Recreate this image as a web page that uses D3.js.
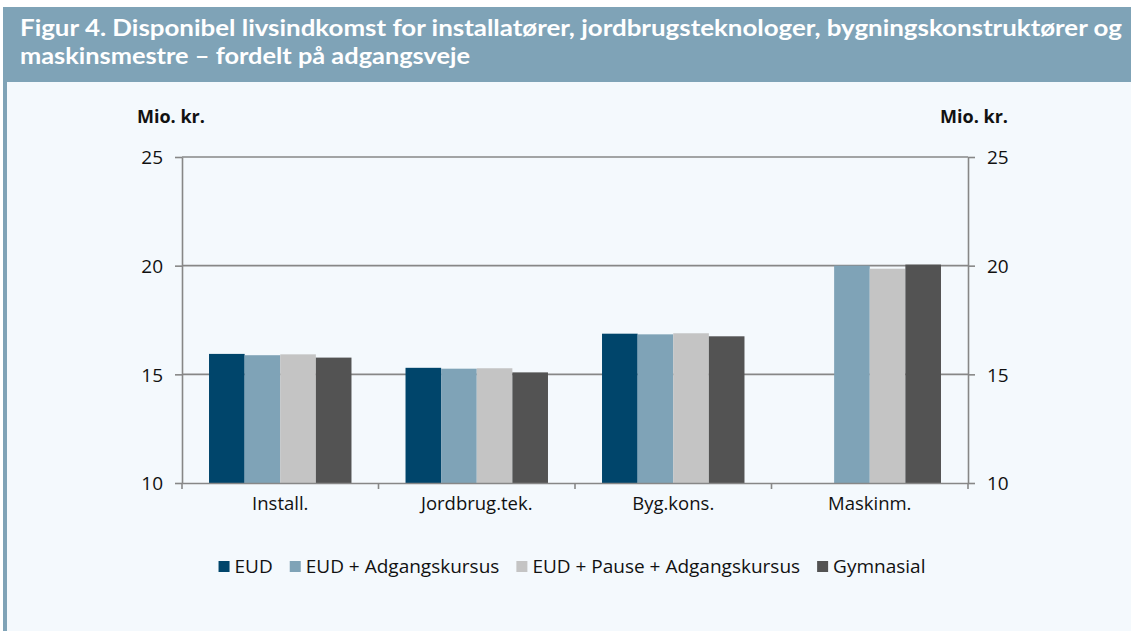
<!DOCTYPE html>
<html><head><meta charset="utf-8">
<script src="https://cdn.jsdelivr.net/npm/d3@7"></script>
<style>html,body{margin:0;padding:0;background:#fff;}svg{display:block;}</style>
</head><body>
<svg id="c" width="1131" height="631"></svg>
<script>
const titleLines = ["Figur 4. Disponibel livsindkomst for installatører, jordbrugsteknologer, bygningskonstruktører og", "maskinsmestre – fordelt på adgangsveje"];
const categories = ["Install.", "Jordbrug.tek.", "Byg.kons.", "Maskinm."];
const seriesNames = ["EUD", "EUD + Adgangskursus", "EUD + Pause + Adgangskursus", "Gymnasial"];
const seriesColors = ["#00456B", "#7FA3B7", "#C4C4C4", "#535353"];
const eud = [15.94, 15.30, 16.87, null];
const eudAdg = [15.88, 15.26, 16.84, 20.0];
const eudPauseAdg = [15.92, 15.28, 16.89, 19.86];
const gymnasial = [15.77, 15.09, 16.75, 20.05];
const yTicks = [10, 15, 20, 25];
const unitLabel = "Mio. kr.";

const values = [eud, eudAdg, eudPauseAdg, gymnasial];
const svg = d3.select("#c");
const W = 1131, H = 631;
const font = "'Open Sans', 'DejaVu Sans', sans-serif";

// background & frame
svg.append("rect").attr("x",0).attr("y",0).attr("width",W).attr("height",H).attr("fill","#ffffff");
svg.append("rect").attr("x",3).attr("y",7).attr("width",W-3).attr("height",H-7).attr("fill","#F4F9FD");
svg.append("rect").attr("x",3).attr("y",7).attr("width",W-3).attr("height",75).attr("fill","#7FA3B7");
svg.append("rect").attr("x",3).attr("y",82).attr("width",4).attr("height",H-82).attr("fill","#7FA3B7");

// title
const tl = [{t:titleLines[0], y:36, w:1102},{t:titleLines[1], y:63.5, w:450}];
tl.forEach(d=>{
  const t = svg.append("text").attr("x",20).attr("y",d.y).text(d.t)
    .attr("fill","#fff").attr("font-family","Lato, 'Open Sans', sans-serif")
    .attr("font-weight","bold").attr("font-size",23);
  const len = t.node().getComputedTextLength();
  if (Math.abs(len - d.w) > 2) t.attr("textLength", d.w).attr("lengthAdjust","spacingAndGlyphs");
});

const L = 182, R = 968, T = 157, B = 483;
const y = d3.scaleLinear().domain([10,25]).range([B,T]);
const x0 = d3.scaleBand().domain(categories).range([L,R]);
const inset = x0.bandwidth()*0.1375;
const x1 = d3.scaleBand().domain(seriesNames).range([inset, x0.bandwidth()-inset]);

const axisColor = "#878787";
// gridlines
svg.append("g").selectAll("line").data(yTicks.filter(v=>v>10)).join("line")
  .attr("x1",L).attr("x2",R).attr("y1",d=>y(d)).attr("y2",d=>y(d))
  .attr("stroke",axisColor).attr("stroke-width",1.6);

// bars
const g = svg.append("g");
categories.forEach((c,ci)=>{
  seriesNames.forEach((s,si)=>{
    const v = values[si][ci];
    if (v==null) return;
    g.append("rect").attr("x",x0(c)+x1(s)).attr("y",y(v))
      .attr("width",x1.bandwidth()).attr("height",y(10)-y(v))
      .attr("fill",seriesColors[si]);
  });
});

// axes
const styleAxis = (sel, fs)=>{
  sel.select(".domain").attr("stroke",axisColor).attr("stroke-width",1.6);
  sel.selectAll(".tick line").attr("stroke",axisColor).attr("stroke-width",1.6);
  sel.selectAll("text").attr("font-family",font).attr("font-size",fs).attr("fill","#111");
};
const yl = svg.append("g").attr("transform",`translate(${L},0)`)
  .call(d3.axisLeft(y).tickValues(yTicks).tickSizeInner(7).tickSizeOuter(0).tickPadding(12).tickFormat(d3.format("d")));
styleAxis(yl, 19);
const yr = svg.append("g").attr("transform",`translate(${R},0)`)
  .call(d3.axisRight(y).tickValues(yTicks).tickSizeInner(7).tickSizeOuter(0).tickPadding(12).tickFormat(d3.format("d")));
styleAxis(yr, 19);
yl.selectAll("text").attr("dy","0.36em");
yr.selectAll("text").attr("dy","0.36em");

const xa = svg.append("g").attr("transform",`translate(0,${B})`)
  .call(d3.axisBottom(x0).tickSize(0).tickPadding(14));
styleAxis(xa, 18.5);
xa.selectAll("text").attr("dy","0.71em");
// category separator ticks
svg.append("g").selectAll("line").data(categories.slice(1)).join("line")
  .attr("x1",d=>x0(d)).attr("x2",d=>x0(d)).attr("y1",B).attr("y2",B+6)
  .attr("stroke",axisColor).attr("stroke-width",1.6);
svg.append("line").attr("x1",R).attr("x2",R).attr("y1",B).attr("y2",B+6).attr("stroke",axisColor).attr("stroke-width",1.6);
svg.append("line").attr("x1",L).attr("x2",L).attr("y1",B).attr("y2",B+6).attr("stroke",axisColor).attr("stroke-width",1.6);

// unit labels
svg.append("text").attr("x",137).attr("y",123).text(unitLabel)
  .attr("font-family",font).attr("font-weight","bold").attr("font-size",18).attr("fill","#111");
svg.append("text").attr("x",1008).attr("y",123).attr("text-anchor","end").text(unitLabel)
  .attr("font-family",font).attr("font-weight","bold").attr("font-size",18).attr("fill","#111");

// legend
const lg = svg.append("g");
let cx = 0;
seriesNames.forEach((s,i)=>{
  const it = lg.append("g").attr("transform",`translate(${cx},0)`);
  it.append("rect").attr("x",0).attr("y",-12).attr("width",11).attr("height",11).attr("fill",seriesColors[i]);
  const t = it.append("text").attr("x",16).attr("y",0).text(s)
    .attr("font-family",font).attr("font-size",19).attr("fill","#111");
  cx += 16 + t.node().getComputedTextLength() + 17;
});
const total = cx - 17;
lg.attr("transform",`translate(${572 - total/2},573)`);
</script>
</body></html>
